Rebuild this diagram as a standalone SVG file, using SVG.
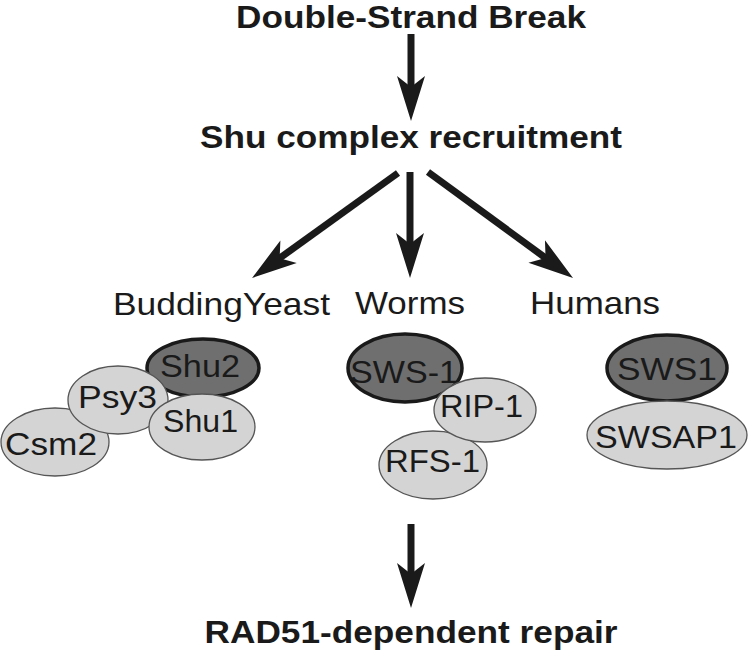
<svg xmlns="http://www.w3.org/2000/svg" width="752" height="655" viewBox="0 0 752 655">
<style>
.t{font-family:"Liberation Sans",Arial,sans-serif;fill:#1a1a1a;text-anchor:middle}
.b{font-weight:bold;font-size:32px}
.r{font-size:32px}
.e{font-size:31px}
.dk{fill:#6f6f6f;stroke:#1a1a1a;stroke-width:3.5}
.lt{fill:#d4d4d4;stroke:#555;stroke-width:1.3}
.ln{stroke:#1a1a1a;stroke-width:7;fill:none}
</style>
<defs>
<marker id="ah" markerUnits="userSpaceOnUse" viewBox="-46 -16 48 32" refX="-30" refY="0" markerWidth="48" markerHeight="32" orient="auto">
<path d="M0,0 L-45,-14 L-34,0 L-45,14 Z" fill="#1a1a1a"/>
</marker>
</defs>
<rect width="752" height="655" fill="#fff"/>
<g id="dsb"><text class="t b" x="411" y="28" textLength="350" lengthAdjust="spacingAndGlyphs">Double-Strand Break</text></g>
<g id="shu"><text class="t b" x="411" y="148" textLength="422" lengthAdjust="spacingAndGlyphs">Shu complex recruitment</text></g>
<g id="rad51"><text class="t b" x="411" y="643" textLength="413" lengthAdjust="spacingAndGlyphs">RAD51-dependent repair</text></g>
<g id="yeast">
<text class="t r" x="221.5" y="315" textLength="217" lengthAdjust="spacingAndGlyphs">BuddingYeast</text>
<ellipse class="dk" cx="203" cy="368" rx="56" ry="29"/>
<text class="t e" x="200" y="377" textLength="80" lengthAdjust="spacingAndGlyphs">Shu2</text>
<ellipse class="lt" cx="55" cy="442" rx="54" ry="34"/>
<text class="t e" x="51" y="455" textLength="92" lengthAdjust="spacingAndGlyphs">Csm2</text>
<ellipse class="lt" cx="118" cy="400" rx="50" ry="34"/>
<text class="t e" x="117.5" y="408" textLength="79" lengthAdjust="spacingAndGlyphs">Psy3</text>
<ellipse class="lt" cx="202" cy="427" rx="53" ry="33"/>
<text class="t e" x="200.5" y="432" textLength="75" lengthAdjust="spacingAndGlyphs">Shu1</text>
</g>
<g id="worms">
<text class="t r" x="410" y="314" textLength="110" lengthAdjust="spacingAndGlyphs">Worms</text>
<ellipse class="dk" cx="405" cy="368" rx="57" ry="34"/>
<text class="t e" x="404" y="383" textLength="108" lengthAdjust="spacingAndGlyphs">SWS-1</text>
<ellipse class="lt" cx="433" cy="465" rx="54" ry="34"/>
<text class="t e" x="432.5" y="472" textLength="95" lengthAdjust="spacingAndGlyphs">RFS-1</text>
<ellipse class="lt" cx="485" cy="410" rx="51" ry="32"/>
<text class="t e" x="481.5" y="417" textLength="83" lengthAdjust="spacingAndGlyphs">RIP-1</text>
</g>
<g id="humans">
<text class="t r" x="595" y="314" textLength="130" lengthAdjust="spacingAndGlyphs">Humans</text>
<ellipse class="dk" cx="667" cy="368" rx="60" ry="33"/>
<text class="t e" x="667" y="380" textLength="100" lengthAdjust="spacingAndGlyphs">SWS1</text>
<ellipse class="lt" cx="667" cy="435" rx="80" ry="34"/>
<text class="t e" x="666" y="448" textLength="142" lengthAdjust="spacingAndGlyphs">SWSAP1</text>
</g>
<g id="connectors">
<line class="ln" x1="411" y1="34" x2="411" y2="91" marker-end="url(#ah)"/>
<line class="ln" x1="398" y1="173" x2="276.4" y2="260.5" marker-end="url(#ah)"/>
<line class="ln" x1="410" y1="172" x2="410" y2="248" marker-end="url(#ah)"/>
<line class="ln" x1="428" y1="172" x2="548.8" y2="260.3" marker-end="url(#ah)"/>
<line class="ln" x1="411" y1="524" x2="411" y2="578" marker-end="url(#ah)"/>
</g>
</svg>
